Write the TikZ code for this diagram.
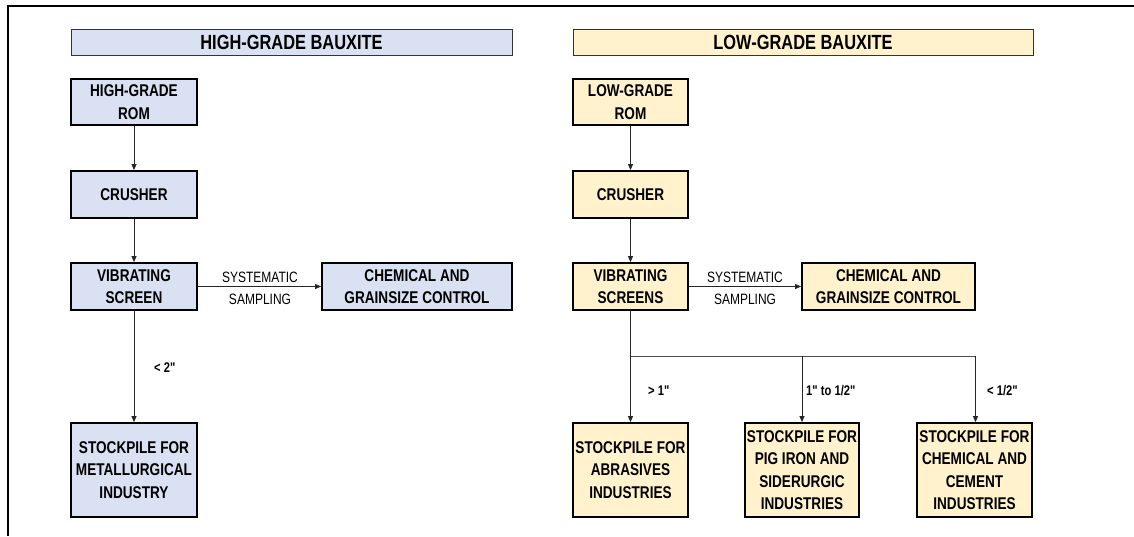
\documentclass[tikz,border=0pt]{standalone}
\usepackage{fontspec}
\setmainfont[FakeStretch=0.8,Ligatures=TeXOff]{Liberation Sans}
\usetikzlibrary{arrows.meta}
\definecolor{hgblue}{HTML}{DAE1F3}
\definecolor{lgyellow}{HTML}{FFF2CC}
\tikzset{
  box/.style={draw=black, line width=1.8pt, align=center, inner sep=0pt,
    font=\fontsize{17}{22.3}\selectfont\bfseries},
  hbox/.style={box, fill=hgblue},
  lbox/.style={box, fill=lgyellow},
  header/.style={draw=black!80, line width=0.9pt, inner sep=0pt,
    minimum height=26pt, font=\fontsize{20.5}{22}\selectfont\bfseries},
  arr/.style={draw=black!85, line width=0.8pt, -{Triangle[length=6pt,width=5pt]}},
  ln/.style={draw=black!70, line width=0.9pt},
  lab/.style={font=\fontsize{14}{15}\selectfont\bfseries, anchor=west, inner sep=0pt},
  samp/.style={font=\fontsize{15}{16}\selectfont, inner sep=0pt},
}
\begin{document}
\begin{tikzpicture}[x=1pt, y=-1pt]
\useasboundingbox (0,0) rectangle (1134,536);
\fill[white] (0,0) rectangle (1134,536);
% frame
\coordinate (ftr) at (1134,6);
\coordinate (ftl) at (8,6);
\coordinate (fbl) at (8,536);
\draw[black, line width=1.2pt] (ftr) -- (ftl) -- (fbl);

% headers
\node[header, fill=hgblue, minimum width=441pt] (hh) at (291.5,42) {HIGH-GRADE BAUXITE};
\node[header, fill=lgyellow, minimum width=460pt] (lh) at (803,42) {LOW-GRADE BAUXITE};

% left column
\node[hbox, minimum width=126pt, minimum height=46pt] (hrom) at (134,102) {HIGH-GRADE\\ROM};
\node[hbox, minimum width=126pt, minimum height=47pt] (hcr) at (134,194.5) {CRUSHER};
\node[hbox, minimum width=126pt, minimum height=47pt] (hvs) at (134,286.5) {VIBRATING\\SCREEN};
\node[hbox, minimum width=190pt, minimum height=47pt] (hch) at (417,286.5) {CHEMICAL AND\\GRAINSIZE CONTROL};
\node[hbox, minimum width=126pt, minimum height=94pt] (hsp) at (134,470) {STOCKPILE FOR\\METALLURGICAL\\INDUSTRY};

\draw[arr] (hrom) -- (hcr);
\draw[arr] (hcr) -- (hvs);
\draw[arr] (hvs) -- (hch);
\node[samp] (hs1) at (260,277) {SYSTEMATIC};
\node[samp] (hs2) at (260,299) {SAMPLING};
\draw[arr] (hvs) -- (hsp);
\node[lab] (l2) at (154,368) {< 2"};

% right column
\node[lbox, minimum width=115pt, minimum height=46pt] (lrom) at (630.5,102) {LOW-GRADE\\ROM};
\node[lbox, minimum width=115pt, minimum height=47pt] (lcr) at (630.5,194.5) {CRUSHER};
\node[lbox, minimum width=115pt, minimum height=47pt] (lvs) at (630.5,286.5) {VIBRATING\\SCREENS};
\node[lbox, minimum width=173pt, minimum height=47pt] (lch) at (888.5,286.5) {CHEMICAL AND\\GRAINSIZE CONTROL};
\node[lbox, minimum width=115pt, minimum height=94pt] (abr) at (630.5,470) {STOCKPILE FOR\\ABRASIVES\\INDUSTRIES};
\node[lbox, minimum width=114pt, minimum height=94pt] (pig) at (802,470) {STOCKPILE FOR\\PIG IRON AND\\SIDERURGIC\\INDUSTRIES};
\node[lbox, minimum width=115pt, minimum height=94pt] (cem) at (974.5,470) {STOCKPILE FOR\\CHEMICAL AND\\CEMENT\\INDUSTRIES};

\draw[arr] (lrom) -- (lcr);
\draw[arr] (lcr) -- (lvs);
\draw[arr] (lvs) -- (lch);
\node[samp] (ls1) at (745,277) {SYSTEMATIC};
\node[samp] (ls2) at (745,299) {SAMPLING};

\coordinate (b1) at (630.5,356);
\coordinate (b2) at (802,356);
\coordinate (b3) at (975.5,356);
\draw[arr] (lvs) -- (abr);
\draw[ln] (b1) -- (b3);
\draw[arr] (b2) -- (pig);
\draw[arr] (b3) -- (cem.north -| b3);
\node[lab] (g1) at (648,391) {> 1"};
\node[lab] (g2) at (806,391) {1" to 1/2"};
\node[lab] (g3) at (987,391) {< 1/2"};
\end{tikzpicture}
\end{document}
